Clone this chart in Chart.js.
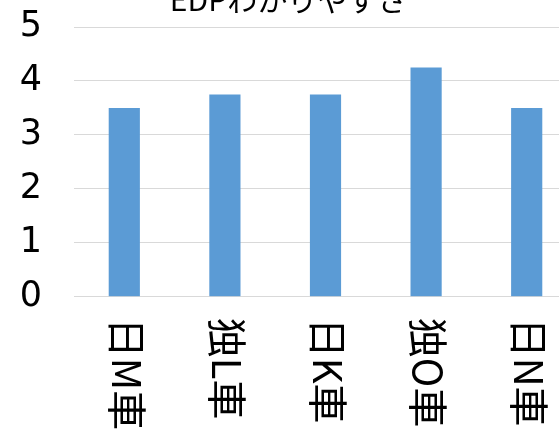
<!DOCTYPE html>
<html>
<head>
<meta charset="utf-8">
<script src="https://cdn.jsdelivr.net/npm/chart.js@4/dist/chart.umd.min.js"></script>
<style>
  html, body { margin: 0; padding: 0; background: #fff; overflow: hidden; }
  #wrap { position: absolute; left: 0; top: -26px; width: 580px; height: 456px; }
</style>
</head>
<body>
<div id="wrap"><canvas id="barChart"></canvas></div>
<script>
const titleText = "EDPわかりやすさ";
const categories = ["日M車", "独L車", "日K車", "独O車", "日N車"];
const scores = [3.5, 3.75, 3.75, 4.25, 3.5];
const yTicks = [0, 1, 2, 3, 4, 5];

const FONT = "'Noto Sans CJK JP', 'Noto Sans', sans-serif";

// vertical category names, rotated clockwise and hung below the axis
const verticalLabels = {
  id: "verticalLabels",
  afterDraw(chart) {
    const x = chart.scales.x;
    const c = chart.ctx;
    c.save();
    c.fillStyle = "#000";
    c.font = "40px " + FONT;
    c.textAlign = "left";
    c.textBaseline = "middle";
    categories.forEach((name, i) => {
      c.save();
      c.translate(x.getPixelForValue(i) + 2.5, x.top + 21);
      c.rotate(Math.PI / 2);
      c.fillText(name, 0, 0);
      c.restore();
    });
    c.restore();
  }
};

const ctx = document.getElementById("barChart");

if (ctx) {
  new Chart(ctx, {
    type: "bar",
    data: {
      labels: categories,
      datasets: [
        {
          label: titleText,
          data: scores,
          backgroundColor: "#5b9bd5",
          borderWidth: 0,
          categoryPercentage: 1,
          barPercentage: 0.31,
        },
      ],
    },
    options: {
      responsive: true,
      maintainAspectRatio: false,
      animation: false,
      layout: { padding: { left: 0, right: 3, top: 0, bottom: 0 } },
      plugins: {
        legend: { display: false },
        tooltip: { enabled: false },
        title: {
          display: true,
          text: titleText,
          color: "#000",
          font: { family: FONT, size: 30, weight: "normal" },
          padding: { top: 1, bottom: 9.5 },
        },
      },
      scales: {
        x: {
          grid: { display: false },
          border: { display: false },
          ticks: { display: false },
          afterFit(scale) { scale.height = 133.3; },
        },
        y: {
          min: yTicks[0],
          max: yTicks[yTicks.length - 1],
          border: { display: false },
          grid: { color: "#d9d9d9", lineWidth: 1, drawTicks: false },
          ticks: {
            stepSize: 1,
            padding: 32,
            color: "#000",
            font: { family: "'DejaVu Sans', sans-serif", size: 35 },
          },
          afterFit(scale) { scale.width = 74; },
        },
      },
    },
    plugins: [verticalLabels],
  });
}
</script>
</body>
</html>
